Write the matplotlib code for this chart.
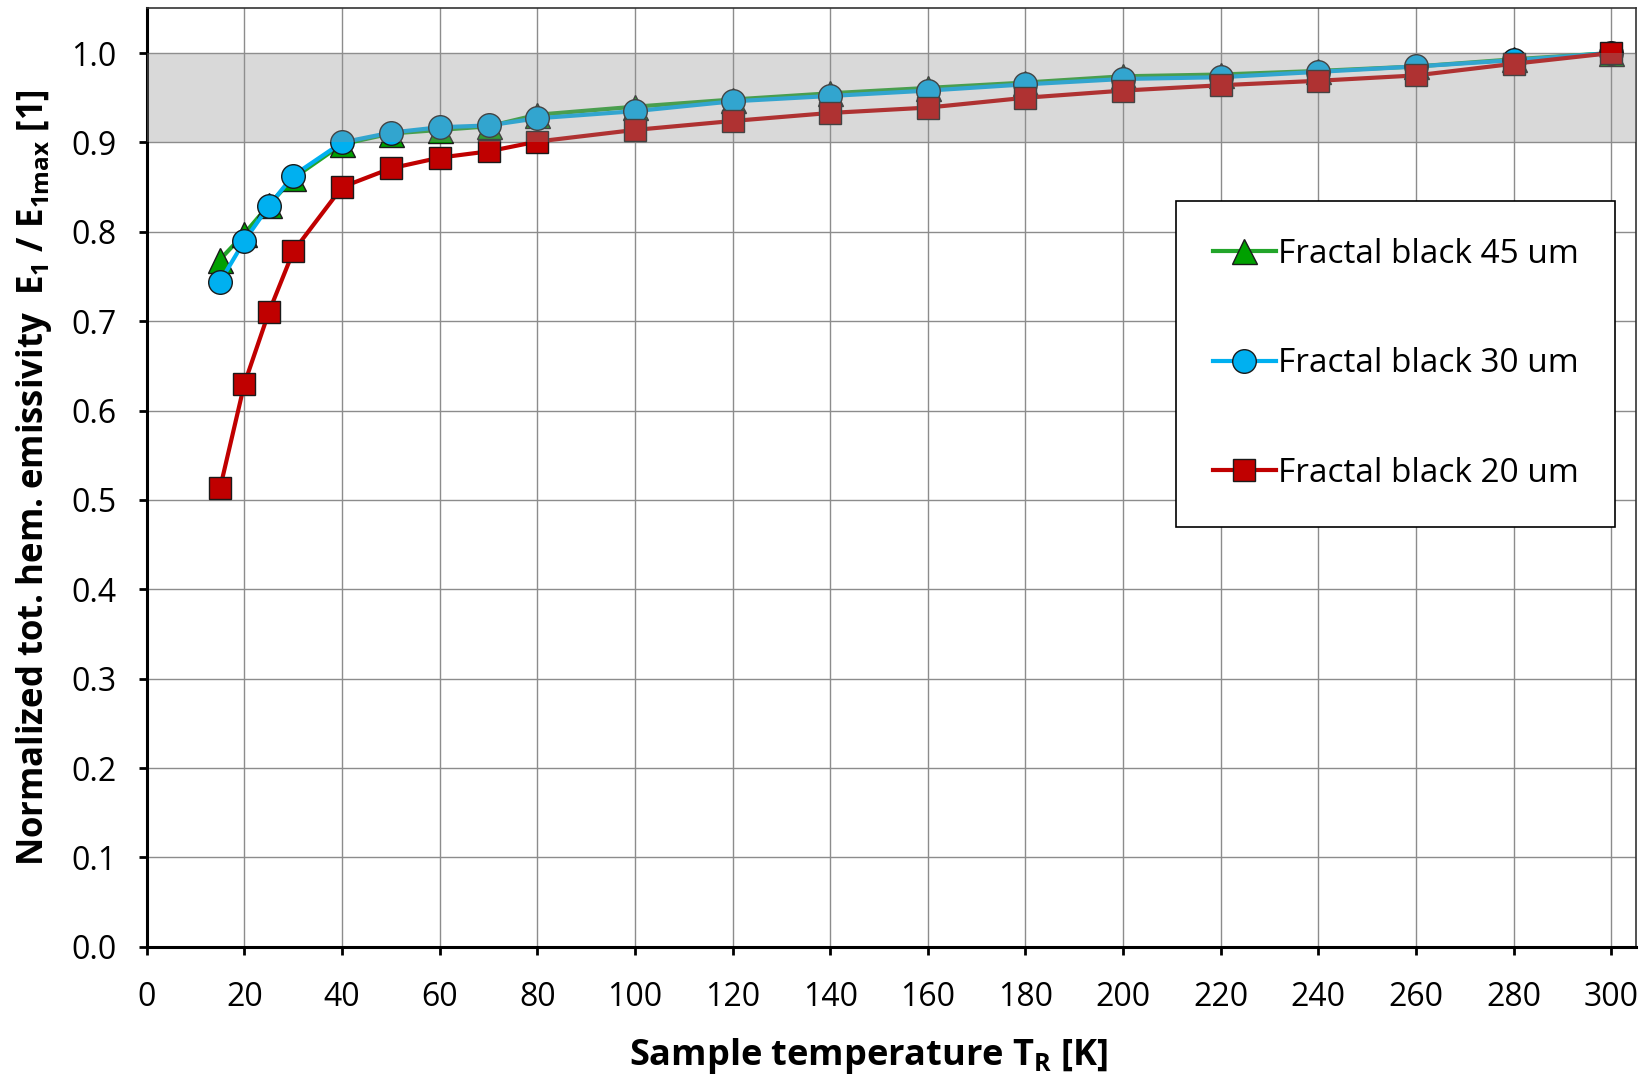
import matplotlib
matplotlib.use("Agg")
import matplotlib.pyplot as plt
from matplotlib.ticker import MultipleLocator, FormatStrFormatter

# temperatures [K]
temp = [15, 20, 25, 30, 40, 50, 60, 70, 80, 100, 120, 140, 160, 180, 200, 220, 240, 260, 280, 300]

# normalized emissivity
fb45 = [0.769, 0.798, 0.830, 0.860, 0.898, 0.910, 0.914, 0.918, 0.931, 0.940,
        0.948, 0.955, 0.961, 0.967, 0.974, 0.976, 0.980, 0.985, 0.993, 1.000]
fb30 = [0.744, 0.790, 0.829, 0.863, 0.900, 0.911, 0.917, 0.919, 0.927, 0.935,
        0.946, 0.952, 0.958, 0.965, 0.971, 0.973, 0.979, 0.985, 0.992, 1.000]
fb20 = [0.513, 0.630, 0.710, 0.778, 0.850, 0.871, 0.883, 0.890, 0.901, 0.914,
        0.924, 0.933, 0.939, 0.950, 0.958, 0.964, 0.969, 0.975, 0.988, 1.000]

labels = ["Fractal black 45 um", "Fractal black 30 um", "Fractal black 20 um"]

plt.rcParams["font.family"] = ["Open Sans", "DejaVu Sans"]
plt.rcParams["mathtext.fontset"] = "custom"
plt.rcParams["mathtext.rm"] = "Open Sans"
plt.rcParams["mathtext.bf"] = "Open Sans:bold"

fig = plt.figure(figsize=(16.44, 10.75), dpi=100)
ax = fig.add_axes([0.0893, 0.1193, 0.9056, 0.8729])

# series: green, blue, red (red on top)
ax.plot(temp, fb45, color="#22a52a", lw=3, marker="^", ms=18,
        mfc="#00a000", mec="#1a1a1a", mew=1, label=labels[0], zorder=3)
ax.plot(temp, fb30, color="#00b0f0", lw=3, marker="o", ms=17,
        mfc="#00b0f0", mec="#1a1a1a", mew=1, label=labels[1], zorder=3)
ax.plot(temp, fb20, color="#c00000", lw=3, marker="s", ms=16,
        mfc="#c00000", mec="#1a1a1a", mew=1, label=labels[2], zorder=3)

# gray band drawn over the data, semi transparent
ax.axhspan(0.9, 1.0, color=(146 / 255, 146 / 255, 146 / 255), alpha=0.35, lw=0, zorder=5)

ax.set_xlim(0, 305)
ax.set_ylim(0, 1.05)
ax.xaxis.set_major_locator(MultipleLocator(20))
ax.yaxis.set_major_locator(MultipleLocator(0.1))
ax.yaxis.set_major_formatter(FormatStrFormatter("%.1f"))

ax.grid(True, color="#8c8c8c", lw=1)
ax.set_axisbelow(True)

ax.spines["left"].set_linewidth(2.2)
ax.spines["bottom"].set_linewidth(2.2)
ax.spines["top"].set_linewidth(1.2)
ax.spines["right"].set_linewidth(1.2)
ax.spines["top"].set_color("#333333")
ax.spines["right"].set_color("#333333")

ax.tick_params(direction="out", length=6, width=2, labelsize=23)
ax.tick_params(axis="x", pad=19)
ax.tick_params(axis="y", pad=16)

ax.set_xlabel(r"Sample temperature $\mathbf{T_R}$ [K]", fontsize=26, fontweight="bold")
ax.xaxis.set_label_coords(0.485, -0.095)
ax.set_ylabel(r"Normalized tot. hem. emissivity  $\mathbf{E_1}$ / $\mathbf{E_{1max}}$ [1]",
              fontsize=25, fontweight="bold", labelpad=12)

leg = ax.legend(loc="upper right", bbox_to_anchor=(0.9862, 0.7948), fontsize=24,
                labelspacing=2.3, borderpad=1.1, handlelength=1.9, handletextpad=0.05,
                fancybox=False, framealpha=1, edgecolor="black", borderaxespad=0)
leg.get_frame().set_linewidth(1.2)
leg.set_zorder(6)

fig.savefig("out.png", dpi=100)
